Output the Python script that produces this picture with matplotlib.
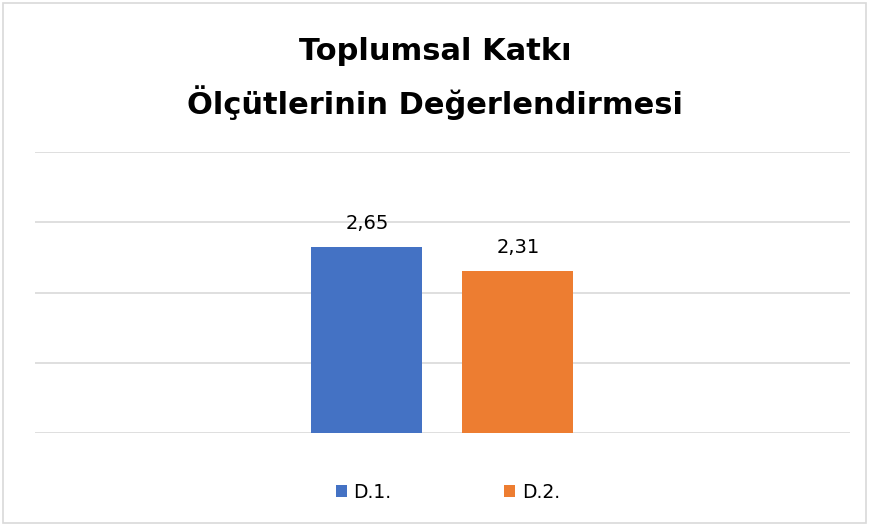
import matplotlib
matplotlib.use("Agg")
import matplotlib.pyplot as plt
from matplotlib.patches import Rectangle

title_lines = ["Toplumsal Katkı", "Ölçütlerinin Değerlendirmesi"]
series = ["D.1.", "D.2."]
values = [2.65, 2.31]
labels = ["2,65", "2,31"]
colors = ["#4472C4", "#ED7D31"]

W, H = 870, 526
fig = plt.figure(figsize=(W / 100, H / 100), dpi=100)
plt.rcParams['font.family'] = ['DejaVu Sans']

ax = fig.add_axes([35 / W, 1 - 433 / H, (850 - 35) / W, (433 - 152) / H])
ax.set_xlim(-0.5, 0.5)
ax.set_ylim(0, 4)
ax.set_yticks([0, 1, 2, 3, 4])
ax.yaxis.grid(True, color="#d9d9d9", linewidth=1.2)
ax.set_axisbelow(True)
ax.tick_params(left=False, bottom=False, labelleft=False, labelbottom=False)
for s in ax.spines.values():
    s.set_visible(False)

bw = 111 / 815
offs = [-75.5 / 815, 75.5 / 815]
handles = []
for v, lab, c, o, name in zip(values, labels, colors, offs, series):
    b = ax.bar(o, v, width=bw, color=c, label=name, zorder=3)
    handles.append(b)
    ax.annotate(lab, (o, v), xytext=(0, 10), textcoords="offset points",
                ha="center", va="bottom", fontsize=14, color="#000000")

fig.text(0.5, 1 - 52 / H, title_lines[0], ha="center", va="center",
         fontsize=22, fontweight="bold", color="#000000")
fig.text(0.5, 1 - 103 / H, title_lines[1], ha="center", va="center",
         fontsize=22, fontweight="bold", color="#000000")

leg = fig.legend(handles=handles, labels=series, loc="center",
                 bbox_to_anchor=(448 / W, 1 - 492 / H), ncol=2, frameon=False,
                 fontsize=13.5, handlelength=0.6, handleheight=0.6,
                 columnspacing=6.0, handletextpad=0.35)

fig.patches.append(Rectangle((3 / W, 3 / H), (866 - 3) / W, (523 - 3) / H,
                             transform=fig.transFigure, fill=False,
                             edgecolor="#d9d9d9", linewidth=1.2))

fig.savefig("out.png", dpi=100)
